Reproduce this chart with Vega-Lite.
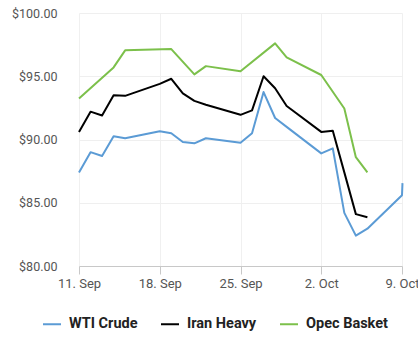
{
  "$schema": "https://vega.github.io/schema/vega-lite/v6.json",
  "width": 323,
  "height": 253,
  "autosize": {"type": "none"},
  "padding": {"left": 79, "top": 13, "right": 16, "bottom": 85},
  "background": "white",
  "config": {
    "view": {"stroke": null},
    "font": "Roboto"
  },
  "data": {
    "values": [
      {"d": "2023-09-11T00:00:00Z", "s": "WTI Crude", "v": 87.4},
      {"d": "2023-09-12T00:00:00Z", "s": "WTI Crude", "v": 89.0},
      {"d": "2023-09-13T00:00:00Z", "s": "WTI Crude", "v": 88.7},
      {"d": "2023-09-14T00:00:00Z", "s": "WTI Crude", "v": 90.25},
      {"d": "2023-09-15T00:00:00Z", "s": "WTI Crude", "v": 90.1},
      {"d": "2023-09-18T00:00:00Z", "s": "WTI Crude", "v": 90.65},
      {"d": "2023-09-19T00:00:00Z", "s": "WTI Crude", "v": 90.5},
      {"d": "2023-09-20T00:00:00Z", "s": "WTI Crude", "v": 89.8},
      {"d": "2023-09-21T00:00:00Z", "s": "WTI Crude", "v": 89.7},
      {"d": "2023-09-22T00:00:00Z", "s": "WTI Crude", "v": 90.1},
      {"d": "2023-09-25T00:00:00Z", "s": "WTI Crude", "v": 89.75},
      {"d": "2023-09-26T00:00:00Z", "s": "WTI Crude", "v": 90.5},
      {"d": "2023-09-27T00:00:00Z", "s": "WTI Crude", "v": 93.75},
      {"d": "2023-09-28T00:00:00Z", "s": "WTI Crude", "v": 91.7},
      {"d": "2023-09-29T00:00:00Z", "s": "WTI Crude", "v": 91.0},
      {"d": "2023-10-02T00:00:00Z", "s": "WTI Crude", "v": 88.9},
      {"d": "2023-10-03T00:00:00Z", "s": "WTI Crude", "v": 89.3},
      {"d": "2023-10-04T00:00:00Z", "s": "WTI Crude", "v": 84.2},
      {"d": "2023-10-05T00:00:00Z", "s": "WTI Crude", "v": 82.4},
      {"d": "2023-10-06T00:00:00Z", "s": "WTI Crude", "v": 82.95},
      {"d": "2023-10-09T00:00:00Z", "s": "WTI Crude", "v": 85.6},
      {"d": "2023-10-09T01:00:00Z", "s": "WTI Crude", "v": 86.55},
      {"d": "2023-09-11T00:00:00Z", "s": "Iran Heavy", "v": 90.6},
      {"d": "2023-09-12T00:00:00Z", "s": "Iran Heavy", "v": 92.2},
      {"d": "2023-09-13T00:00:00Z", "s": "Iran Heavy", "v": 91.9},
      {"d": "2023-09-14T00:00:00Z", "s": "Iran Heavy", "v": 93.5},
      {"d": "2023-09-15T00:00:00Z", "s": "Iran Heavy", "v": 93.45},
      {"d": "2023-09-18T00:00:00Z", "s": "Iran Heavy", "v": 94.4},
      {"d": "2023-09-19T00:00:00Z", "s": "Iran Heavy", "v": 94.8},
      {"d": "2023-09-20T00:00:00Z", "s": "Iran Heavy", "v": 93.65},
      {"d": "2023-09-21T00:00:00Z", "s": "Iran Heavy", "v": 93.05},
      {"d": "2023-09-22T00:00:00Z", "s": "Iran Heavy", "v": 92.75},
      {"d": "2023-09-25T00:00:00Z", "s": "Iran Heavy", "v": 91.95},
      {"d": "2023-09-26T00:00:00Z", "s": "Iran Heavy", "v": 92.3},
      {"d": "2023-09-27T00:00:00Z", "s": "Iran Heavy", "v": 95.0},
      {"d": "2023-09-28T00:00:00Z", "s": "Iran Heavy", "v": 94.05},
      {"d": "2023-09-29T00:00:00Z", "s": "Iran Heavy", "v": 92.65},
      {"d": "2023-10-02T00:00:00Z", "s": "Iran Heavy", "v": 90.6},
      {"d": "2023-10-03T00:00:00Z", "s": "Iran Heavy", "v": 90.7},
      {"d": "2023-10-04T00:00:00Z", "s": "Iran Heavy", "v": 87.4},
      {"d": "2023-10-05T00:00:00Z", "s": "Iran Heavy", "v": 84.1},
      {"d": "2023-10-06T00:00:00Z", "s": "Iran Heavy", "v": 83.85},
      {"d": "2023-09-11T00:00:00Z", "s": "Opec Basket", "v": 93.25},
      {"d": "2023-09-14T00:00:00Z", "s": "Opec Basket", "v": 95.7},
      {"d": "2023-09-15T00:00:00Z", "s": "Opec Basket", "v": 97.05},
      {"d": "2023-09-19T00:00:00Z", "s": "Opec Basket", "v": 97.15},
      {"d": "2023-09-21T00:00:00Z", "s": "Opec Basket", "v": 95.15},
      {"d": "2023-09-22T00:00:00Z", "s": "Opec Basket", "v": 95.8},
      {"d": "2023-09-25T00:00:00Z", "s": "Opec Basket", "v": 95.4},
      {"d": "2023-09-28T00:00:00Z", "s": "Opec Basket", "v": 97.6},
      {"d": "2023-09-29T00:00:00Z", "s": "Opec Basket", "v": 96.5},
      {"d": "2023-10-02T00:00:00Z", "s": "Opec Basket", "v": 95.1},
      {"d": "2023-10-04T00:00:00Z", "s": "Opec Basket", "v": 92.45},
      {"d": "2023-10-05T00:00:00Z", "s": "Opec Basket", "v": 88.6},
      {"d": "2023-10-06T00:00:00Z", "s": "Opec Basket", "v": 87.4}
    ]
  },
  "mark": {"type": "line", "strokeWidth": 2, "strokeJoin": "round"},
  "encoding": {
    "x": {
      "field": "d",
      "type": "temporal",
      "scale": {"type": "utc", "domain": [1694390400000, 1696809600000]},
      "axis": {
        "title": null,
        "values": [1694390400000, 1694995200000, 1695600000000, 1696204800000, 1696809600000],
        "labelExpr": "utcFormat(datum.value, '%-d. %b')",
        "grid": true,
        "gridColor": "#f0f0f0",
        "domainColor": "#c8c8c8",
        "tickColor": "#c8c8c8",
        "tickSize": 8,
        "labelFont": "Roboto",
        "labelFontSize": 13,
        "labelColor": "#555555",
        "labelPadding": 3,
        "labelFlush": false,
        "labelOverlap": false
      }
    },
    "y": {
      "field": "v",
      "type": "quantitative",
      "scale": {"domain": [80, 100], "nice": false, "zero": false},
      "axis": {
        "title": null,
        "values": [80, 85, 90, 95, 100],
        "format": "$.2f",
        "grid": true,
        "gridColor": "#efefef",
        "domain": false,
        "ticks": false,
        "labelFont": "Roboto",
        "labelFontSize": 12.5,
        "labelColor": "#555555",
        "labelPadding": 22
      }
    },
    "color": {
      "field": "s",
      "type": "nominal",
      "scale": {
        "domain": ["WTI Crude", "Iran Heavy", "Opec Basket"],
        "range": ["#5b9bd5", "#000000", "#7cc04b"]
      },
      "legend": {
        "title": null,
        "orient": "none",
        "legendX": -37,
        "legendY": 301,
        "direction": "horizontal",
        "symbolType": "stroke",
        "symbolSize": 324,
        "symbolStrokeWidth": 2,
        "labelFont": "Roboto",
        "labelFontWeight": "bold",
        "labelFontSize": 14.5,
        "labelColor": "#222222",
        "labelOffset": 7,
        "columnPadding": 19
      }
    }
  }
}
